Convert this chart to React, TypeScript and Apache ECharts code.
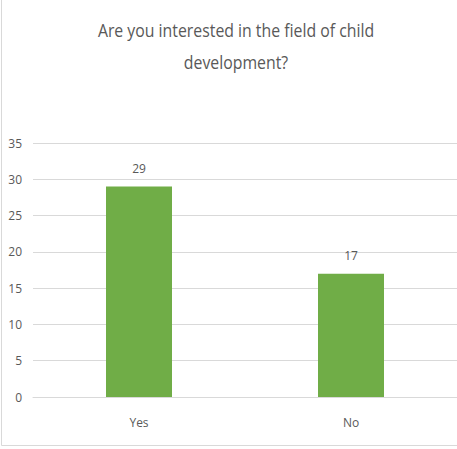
import React, { useEffect, useRef } from "react";
import * as echarts from "echarts";

const categories = ["Yes", "No"];
const responses = [29, 17];
const yTicks = { min: 0, max: 35, interval: 5 };

const FONT = "'Open Sans', sans-serif";
const TEXT_COLOR = "#595959";

export default function App() {
  const ref = useRef<HTMLDivElement>(null);

  useEffect(() => {
    if (!ref.current) return;
    const chart = echarts.init(ref.current, undefined, { renderer: "svg" });
    chart.setOption({
      animation: false,
      backgroundColor: "#ffffff",
      graphic: [
        {
          // narrow title face: Open Sans squeezed horizontally
          type: "text",
          x: 236,
          y: 46,
          scaleX: 0.88,
          style: {
            text: "Are you interested in the field of child\ndevelopment?",
            fill: TEXT_COLOR,
            font: `18px ${FONT}`,
            textAlign: "center",
            textVerticalAlign: "middle",
            lineHeight: 32,
          },
        },
        {
          type: "line",
          shape: { x1: 1.5, y1: 0, x2: 1.5, y2: 445.5 },
          style: { stroke: "#d9d9d9", lineWidth: 1 },
        },
        {
          type: "line",
          shape: { x1: 1.5, y1: 445.5, x2: 457, y2: 445.5 },
          style: { stroke: "#d9d9d9", lineWidth: 1 },
        },
      ],
      grid: { left: 33, right: 0, top: 143, bottom: 52 },
      xAxis: {
        type: "category",
        data: categories,
        axisLine: { show: true, lineStyle: { color: "#d9d9d9", width: 1 } },
        axisTick: { show: false },
        axisLabel: { color: TEXT_COLOR, fontSize: 12, fontFamily: FONT, margin: 19 },
      },
      yAxis: {
        type: "value",
        min: yTicks.min,
        max: yTicks.max,
        interval: yTicks.interval,
        axisLine: { show: false },
        axisTick: { show: false },
        axisLabel: { color: TEXT_COLOR, fontSize: 12, fontFamily: FONT, margin: 11 },
        splitLine: { lineStyle: { color: "#d9d9d9", width: 1 } },
      },
      series: [
        {
          type: "bar",
          data: responses,
          barWidth: 66,
          itemStyle: { color: "#70AD47" },
          label: {
            show: true,
            position: "top",
            distance: 12,
            color: TEXT_COLOR,
            fontSize: 12,
            fontFamily: FONT,
          },
        },
      ],
    });
    return () => chart.dispose();
  }, []);

  return (
    <div
      ref={ref}
      style={{ position: "absolute", left: 0, top: 0, width: 457, height: 449 }}
    />
  );
}
